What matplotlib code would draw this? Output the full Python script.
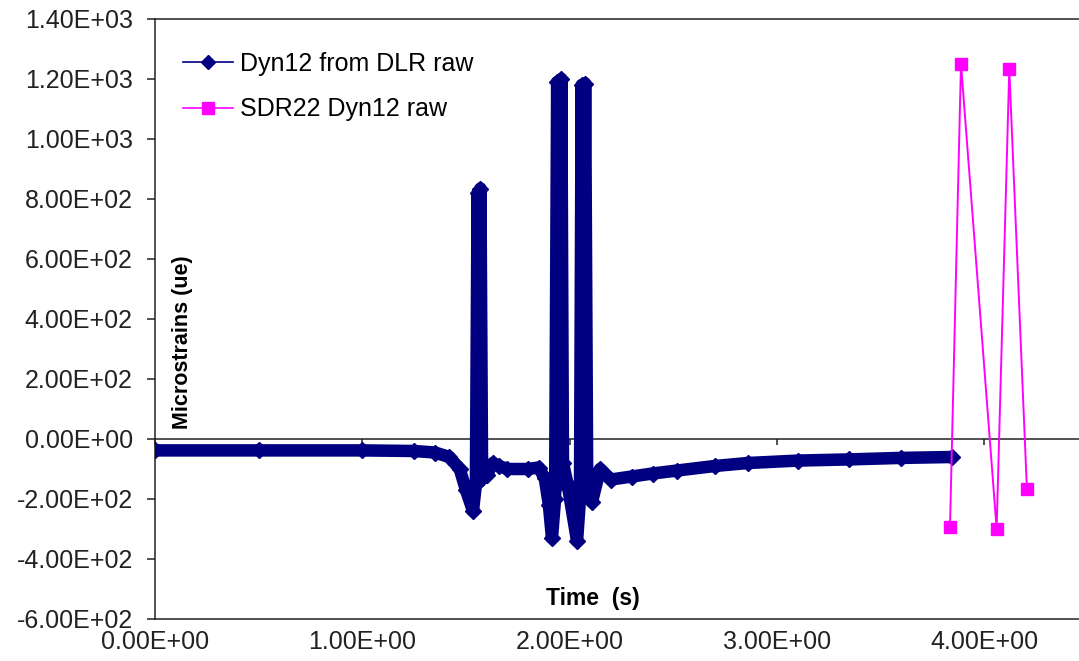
import matplotlib
matplotlib.use("Agg")
import matplotlib.pyplot as plt
from matplotlib.lines import Line2D
from matplotlib.ticker import FuncFormatter

plt.rcParams['font.family'] = ['Liberation Sans', 'DejaVu Sans']

# Dyn12 from DLR raw (time s, microstrain)
# the three bursts are fast oscillations, so a few up/down samples each
dlr_time = [0.0, 0.5, 1.0, 1.25, 1.35, 1.42, 1.47, 1.50, 1.534,
            1.548, 1.556, 1.563, 1.570, 1.578,
            1.60, 1.63, 1.66, 1.70, 1.80, 1.85, 1.88, 1.90, 1.915,
            1.930, 1.940, 1.950, 1.960, 1.968,
            1.99, 2.036,
            2.050, 2.058, 2.065, 2.075, 2.085,
            2.108, 2.147, 2.20, 2.30, 2.40, 2.52, 2.70, 2.86, 3.10, 3.35,
            3.60, 3.845]
dlr_strain = [-38, -38, -38, -40, -45, -60, -100, -170, -240,
              -150, 820, -140, 835, -130,
              -120, -80, -90, -100, -100, -95, -130, -220, -330,
              -200, 1190, -150, 1200, -80,
              -150, -340,
              -200, 1180, -150, 1185, -150,
              -210, -100, -135, -125, -115, -105, -90, -80, -72, -68,
              -63, -60]

# SDR22 Dyn12 raw
sdr_time = [3.835, 3.888, 4.060, 4.121, 4.206]
sdr_strain = [-293, 1250, -299, 1233, -167]

y_ticks = [-600, -400, -200, 0, 200, 400, 600, 800, 1000, 1200, 1400]
x_ticks = [0, 1, 2, 3, 4]

W, H = 1079, 661
fig = plt.figure(figsize=(W / 100, H / 100), dpi=100)
ax = fig.add_axes([155 / W, 42 / H, 1 - 155 / W, (619 - 19) / H])

ax.plot(dlr_time, dlr_strain, color='#000080', lw=9, marker='D', ms=8,
        solid_joinstyle='round', solid_capstyle='round', zorder=3)
ax.plot(sdr_time, sdr_strain, color='#FF00FF', lw=1.4, marker='s', ms=9,
        mec='#FF00FF', zorder=4)

ax.set_xlim(0, (W - 155) / 207.3)
ax.set_ylim(-600, 1400)

fmt = FuncFormatter(lambda v, p: f"{v:.2E}")

# spines
ax.spines['right'].set_visible(False)
ax.spines['bottom'].set_position(('data', 0))
for s in ['left', 'top', 'bottom']:
    ax.spines[s].set_linewidth(1.1)
    ax.spines[s].set_color('#222222')

ax.set_yticks(y_ticks)
ax.yaxis.set_major_formatter(fmt)
ax.tick_params(axis='y', direction='out', length=6, width=1.1, pad=10,
               labelsize=18, colors='#222222')

ax.set_xticks(x_ticks)
ax.tick_params(axis='x', direction='out', length=4, width=1.1,
               labelbottom=False, colors='#222222')

sec = ax.secondary_xaxis(0.0)
sec.set_xticks(x_ticks)
sec.xaxis.set_major_formatter(fmt)
sec.tick_params(axis='x', length=0, pad=8, labelsize=18, colors='#222222')
sec.spines['bottom'].set_linewidth(1.1)
sec.spines['bottom'].set_color('#222222')

fig.text(593 / W, 1 - 598 / H, 'Time  (s)', ha='center', va='center',
         fontsize=16.5, fontweight='bold')
fig.text(183 / W, 1 - 342 / H, 'Microstrains (ue)', ha='center', va='center',
         rotation=90, fontsize=15.5, fontweight='bold')

handles = [
    Line2D([], [], color='#000080', lw=1.2, marker='D', ms=7),
    Line2D([], [], color='#FF00FF', lw=1.2, marker='s', ms=8),
]
fig.legend(handles, ['Dyn12 from DLR raw', 'SDR22 Dyn12 raw'],
           loc='upper left', bbox_to_anchor=(183 / W, 1 - 52 / H),
           frameon=False, fontsize=18, handlelength=2.0, handletextpad=0.3,
           labelspacing=0.85, borderpad=0, borderaxespad=0)

fig.savefig('out.png', dpi=100)
